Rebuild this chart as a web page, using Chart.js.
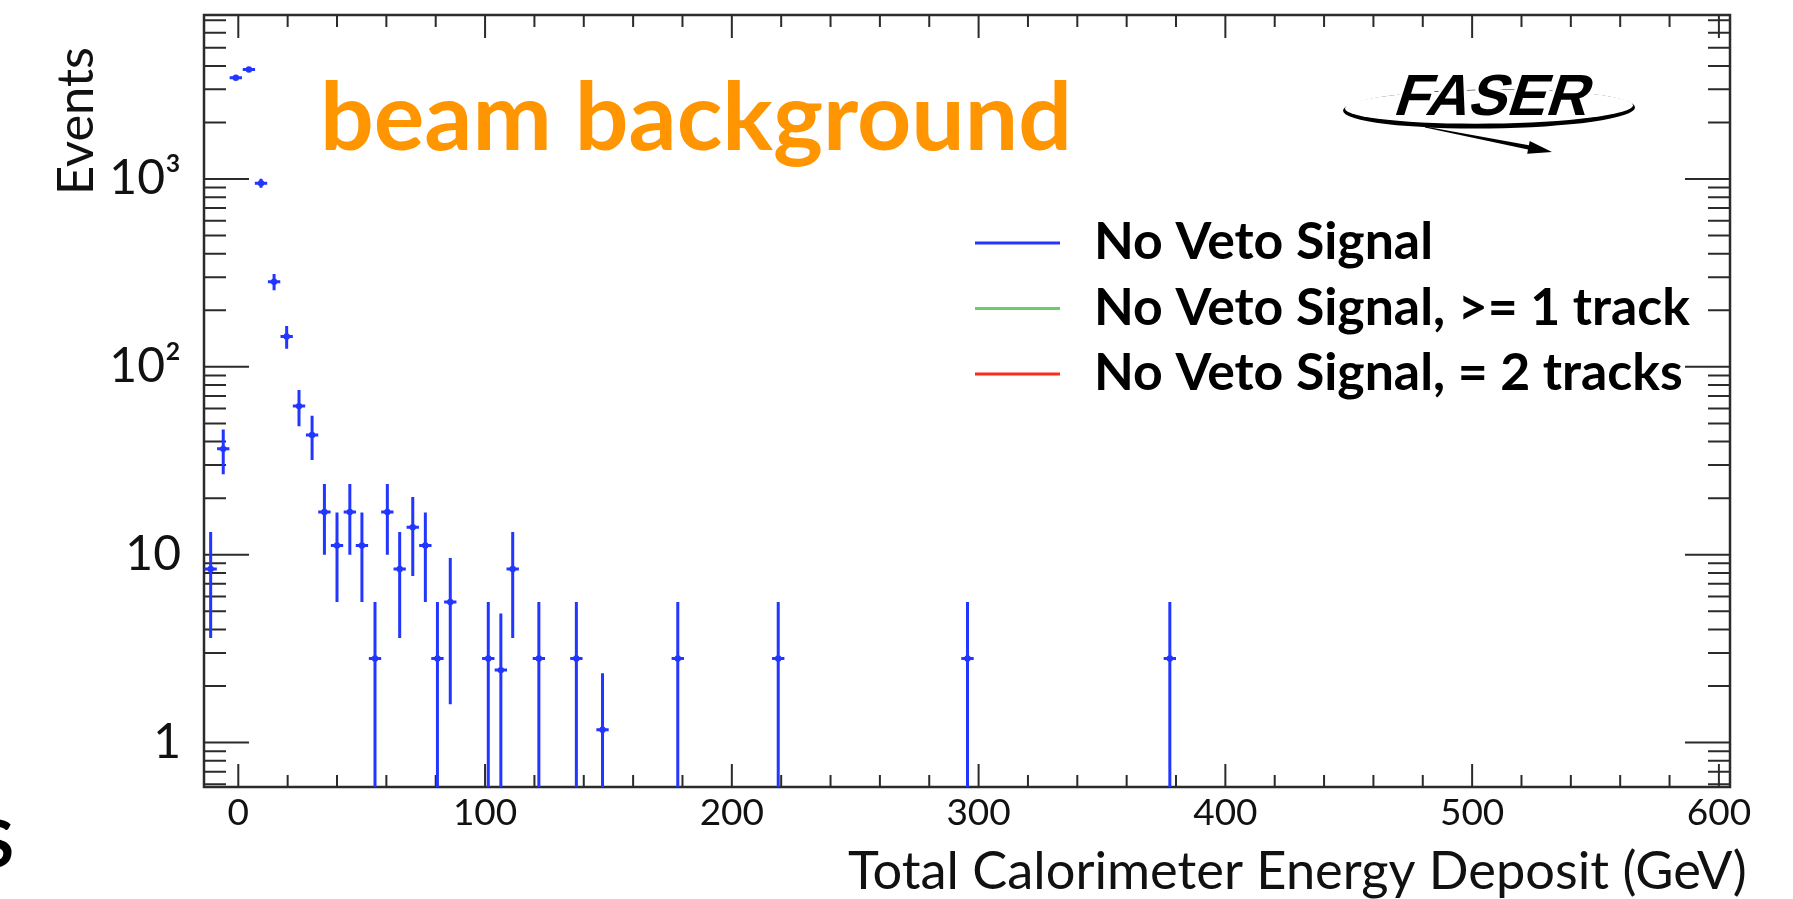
<!DOCTYPE html>
<html>
<head>
<meta charset="utf-8">
<script src="https://cdn.jsdelivr.net/npm/chart.js@4.4.1/dist/chart.umd.min.js"></script>
<style>
  html, body { margin: 0; padding: 0; background: #fff; overflow: hidden; }
  canvas { display: block; }
</style>
</head>
<body>
<canvas id="chart" width="1793" height="899"></canvas>
<script>
// bin centres (GeV), contents and errors
const energy = [-11.2, -6.1, -1.0, 4.3, 9.2, 14.5, 19.6, 24.6, 29.9, 34.9,
  40.0, 45.2, 50.1, 55.4, 60.4, 65.4, 70.7, 75.8, 80.7, 85.9,
  101.3, 106.4, 111.2, 121.8, 137.0, 147.6, 178.1, 218.8, 295.5, 377.5];
const events = [8.4, 36.6, 3460, 3830, 950, 284, 145, 61.8, 43.4, 16.9,
  11.2, 16.9, 11.2, 2.8, 16.9, 8.4, 14.0, 11.2, 2.8, 5.6,
  2.8, 2.43, 8.4, 2.8, 2.8, 1.17, 2.8, 2.8, 2.8, 2.8];
const eventsErr = [4.8, 9.8, 99, 104, 52, 28, 20, 13.5, 11.5, 6.9,
  5.6, 6.9, 5.6, 2.8, 6.9, 4.8, 6.3, 5.6, 2.8, 4.0,
  2.8, 2.43, 4.8, 2.8, 2.8, 1.17, 2.8, 2.8, 2.8, 2.8];
const binHalfWidth = 2.5;

const seriesNames = ['No Veto Signal', 'No Veto Signal, >= 1 track', 'No Veto Signal, = 2 tracks'];
const seriesColors = ['#2236ff', '#66d066', '#ff2a1a'];

const xTicks = [0, 100, 200, 300, 400, 500, 600];
const xTickLabels = ['0', '100', '200', '300', '400', '500', '600'];
const yTicks = [1, 10, 100, 1000];
const yTickLabels = ['1', '10', '10²', '10³'];
const xMin = -13.9, xMax = 604.5, xMinorStep = 20, xMajorStep = 100;
const yMin = 0.58, yMax = 7465;

function fitFont(ctx, text, weight, family, width) {
  ctx.font = weight + ' 100px ' + family;
  const size = 100 * width / ctx.measureText(text).width;
  ctx.font = weight + ' ' + size + 'px ' + family;
  return size;
}

// ROOT style frame with ticks pointing inwards on all four sides
const rootFrame = {
  id: 'rootFrame',
  beforeDatasetsDraw(chart) {
    const {ctx, chartArea: a, scales: {x, y}} = chart;
    ctx.save();
    ctx.strokeStyle = '#2b2b2b';
    ctx.lineWidth = 2;
    ctx.beginPath();
    for (let v = Math.ceil(x.min / xMinorStep) * xMinorStep; v <= x.max; v += xMinorStep) {
      const px = x.getPixelForValue(v);
      const len = v % xMajorStep === 0 ? 23 : 12;
      ctx.moveTo(px, a.bottom); ctx.lineTo(px, a.bottom - len);
      ctx.moveTo(px, a.top); ctx.lineTo(px, a.top + len);
    }
    for (let e = Math.floor(Math.log10(y.min)); e <= Math.ceil(Math.log10(y.max)); e++) {
      for (let m = 1; m <= 9; m++) {
        const v = m * Math.pow(10, e);
        if (v < y.min || v > y.max) continue;
        const py = y.getPixelForValue(v);
        const len = m === 1 ? 45 : 22;
        ctx.moveTo(a.left, py); ctx.lineTo(a.left + len, py);
        ctx.moveTo(a.right, py); ctx.lineTo(a.right - len, py);
      }
    }
    ctx.stroke();
    ctx.lineWidth = 2.5;
    ctx.strokeRect(a.left, a.top, a.width, a.height);
    ctx.restore();
  }
};

const errorBars = {
  id: 'errorBars',
  beforeDatasetsDraw(chart) {
    const {ctx, chartArea: a, scales: {x, y}} = chart;
    ctx.save();
    ctx.beginPath();
    ctx.rect(a.left, a.top, a.width, a.height);
    ctx.clip();
    chart.data.datasets.forEach(ds => {
      if (!ds.err) return;
      ctx.strokeStyle = ds.borderColor;
      ctx.lineWidth = 3;
      ctx.beginPath();
      ds.data.forEach((p, i) => {
        const px = x.getPixelForValue(p.x);
        const py = y.getPixelForValue(p.y);
        const lo = Math.max(p.y - ds.err[i], y.min);
        ctx.moveTo(px, y.getPixelForValue(p.y + ds.err[i]));
        ctx.lineTo(px, y.getPixelForValue(lo));
        ctx.moveTo(x.getPixelForValue(p.x - binHalfWidth), py);
        ctx.lineTo(x.getPixelForValue(p.x + binHalfWidth), py);
      });
      ctx.stroke();
    });
    ctx.restore();
  }
};

const decorations = {
  id: 'decorations',
  afterDraw(chart) {
    const {ctx, chartArea: a} = chart;
    ctx.save();
    ctx.textAlign = 'left';
    ctx.textBaseline = 'alphabetic';

    // big orange label
    ctx.fillStyle = '#ff9500';
    fitFont(ctx, 'beam background', 'bold', 'Lato', 752);
    ctx.fillText('beam background', 320, 150);

    // axis titles
    ctx.fillStyle = '#111';
    fitFont(ctx, 'Total Calorimeter Energy Deposit (GeV)', 'normal', 'Lato', 899);
    ctx.fillText('Total Calorimeter Energy Deposit (GeV)', 848, 889);

    ctx.save();
    ctx.translate(93, 121);
    ctx.rotate(-Math.PI / 2);
    ctx.textAlign = 'center';
    fitFont(ctx, 'Events', 'normal', 'Lato', 148);
    ctx.fillText('Events', 0, 0);
    ctx.restore();

    // legend
    const lx = a.left + 771, ly = a.top + 228, dy = 65.5;
    fitFont(ctx, seriesNames[1], 'bold', 'Lato', 596);
    chart.data.datasets.forEach((ds, i) => {
      const yy = ly + i * dy;
      ctx.strokeStyle = ds.borderColor;
      ctx.lineWidth = 3;
      ctx.beginPath();
      ctx.moveTo(lx, yy); ctx.lineTo(lx + 85, yy);
      ctx.stroke();
      ctx.fillStyle = '#000';
      ctx.fillText(ds.label, lx + 119, yy + 16);
    });

    // FASER logo
    ctx.save();
    ctx.fillStyle = '#000';
    ctx.beginPath();
    ctx.ellipse(1489, 109, 146, 19.5, -0.011, 0, Math.PI * 2);
    ctx.fill();
    ctx.fillStyle = '#fff';
    ctx.beginPath();
    ctx.ellipse(1489, 106.8, 144, 16.8, -0.011, 0, Math.PI * 2);
    ctx.fill();
    // swoosh arrow
    const x0 = 1425, y0 = 127, x1 = 1552, y1 = 152;
    const len = Math.hypot(x1 - x0, y1 - y0);
    const ux = (x1 - x0) / len, uy = (y1 - y0) / len, nx = -uy, ny = ux;
    const hb = len - 24;
    ctx.fillStyle = '#000';
    ctx.beginPath();
    ctx.moveTo(x0 + nx * 0.5, y0 + ny * 0.5);
    ctx.lineTo(x0 + ux * hb + nx * 2.2, y0 + uy * hb + ny * 2.2);
    ctx.lineTo(x0 + ux * hb + nx * 6.5, y0 + uy * hb + ny * 6.5);
    ctx.lineTo(x1, y1);
    ctx.lineTo(x0 + ux * hb - nx * 6.5, y0 + uy * hb - ny * 6.5);
    ctx.lineTo(x0 + ux * hb - nx * 2.2, y0 + uy * hb - ny * 2.2);
    ctx.lineTo(x0 - nx * 0.5, y0 - ny * 0.5);
    ctx.closePath();
    ctx.fill();
    // lettering
    ctx.translate(1392, 115);
    ctx.transform(1, 0, -0.32, 1, 0, 0);
    fitFont(ctx, 'FASER', 'bold', '"Liberation Sans"', 194);
    ctx.lineJoin = 'round';
    ctx.strokeStyle = '#fff';
    ctx.lineWidth = 6;
    ctx.strokeText('FASER', 0, 0);
    ctx.fillStyle = '#000';
    ctx.fillText('FASER', 0, 0);
    ctx.restore();

    // clipped letter at the lower left edge of the slide
    ctx.fillStyle = '#000';
    ctx.textAlign = 'right';
    ctx.font = 'bold 65px Lato';
    ctx.fillText('S', 14, 867);
    ctx.restore();
  }
};

new Chart(document.getElementById('chart'), {
  type: 'scatter',
  data: {
    datasets: [
      {
        label: seriesNames[0],
        data: energy.map((e, i) => ({x: e, y: events[i]})),
        err: eventsErr,
        borderColor: seriesColors[0],
        backgroundColor: seriesColors[0],
        pointRadius: 3.2,
        pointHoverRadius: 3.2,
        pointBorderWidth: 0
      },
      {label: seriesNames[1], data: [], borderColor: seriesColors[1], backgroundColor: seriesColors[1]},
      {label: seriesNames[2], data: [], borderColor: seriesColors[2], backgroundColor: seriesColors[2]}
    ]
  },
  options: {
    responsive: false,
    animation: false,
    devicePixelRatio: 1,
    layout: {padding: {left: 0, top: 15, right: 63, bottom: 0}},
    plugins: {legend: {display: false}, tooltip: {enabled: false}},
    scales: {
      x: {
        type: 'linear',
        min: xMin,
        max: xMax,
        grid: {display: false},
        border: {display: false},
        afterBuildTicks: s => { s.ticks = xTicks.map(v => ({value: v})); },
        afterFit: s => { s.height = 112; s.paddingLeft = 0; s.paddingRight = 0; },
        ticks: {
          color: '#111',
          font: {family: 'Lato', size: 37},
          padding: -4,
          maxRotation: 0,
          autoSkip: false,
          callback: (v, i) => xTickLabels[i]
        }
      },
      y: {
        type: 'logarithmic',
        min: yMin,
        max: yMax,
        grid: {display: false},
        border: {display: false},
        afterBuildTicks: s => { s.ticks = yTicks.map(v => ({value: v})); },
        afterFit: s => { s.width = 204; s.paddingTop = 0; s.paddingBottom = 0; },
        ticks: {
          color: '#111',
          font: {family: 'Lato', size: 48},
          padding: 15,
          autoSkip: false,
          callback: (v, i) => yTickLabels[i]
        }
      }
    }
  },
  plugins: [rootFrame, errorBars, decorations]
});
</script>
</body>
</html>
